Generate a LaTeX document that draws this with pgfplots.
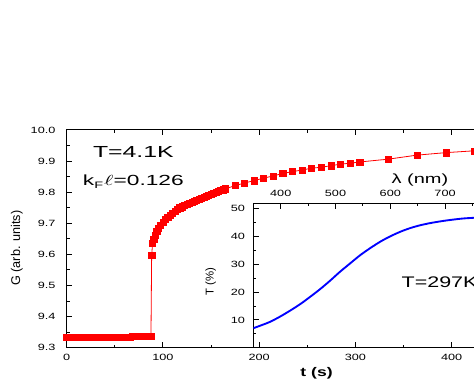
\documentclass[border=0pt]{standalone}
\usepackage{fontspec}
\setmainfont{Liberation Sans}
\usepackage{pgfplots}
\pgfplotsset{compat=1.18}
\begin{document}
\begin{tikzpicture}
\useasboundingbox (0,0) rectangle (355.5pt,285.75pt);
\clip (0,0) rectangle (355.5pt,285.75pt);
\pgfplotsset{
  common/.style={
    scale only axis,
    tick align=inside,
    major tick length=4pt, minor tick length=2.2pt,
    axis line style={line width=0.8pt},
    every tick/.style={line width=0.7pt, black},
    /pgf/number format/assume math mode=true,
    tick label style={font=\fontsize{6.8}{8}\selectfont, xscale=1.4},
  }
}
\begin{axis}[common,
  at={(50pt,25pt)}, anchor=south west,
  width=324.8pt, height=163.3pt,
  xmin=0, xmax=450, ymin=9.3, ymax=10.0,
  xtick={0,100,200,300,400},
  minor xtick={50,150,250,350,450},
  ytick={9.3,9.4,9.5,9.6,9.7,9.8,9.9,10.0},
  minor ytick={9.35,9.45,9.55,9.65,9.75,9.85,9.95},
  y tick label style={/pgf/number format/fixed, /pgf/number format/fixed zerofill, /pgf/number format/precision=1, xshift=-2.5pt},
  x tick label style={yshift=-1.5pt},
  xlabel={\bfseries t (s)},
  xlabel style={at={(axis description cs:0.577,-0.116)}, anchor=center, font=\fontsize{9.4}{11}\selectfont, xscale=1.4},
  ylabel={G (arb. units)},
  ylabel style={at={(axis description cs:-0.115,0.457)}, anchor=center, font=\fontsize{9.5}{11}\selectfont},
]
\addplot[red, line width=0.6pt, mark=square*, mark size=2.3pt, mark options={solid, fill=red, draw=red, line width=0.3pt}] coordinates {
(0,9.335)(2,9.335)(4,9.335)(6,9.335)(8,9.335)(10,9.335)(12,9.335)(14,9.335)(16,9.335)(18,9.335)
(20,9.335)(22,9.335)(24,9.335)(26,9.335)(28,9.335)(30,9.335)(32,9.335)(34,9.335)(36,9.335)(38,9.335)
(40,9.335)(42,9.335)(44,9.335)(46,9.335)(48,9.335)(50,9.335)(52,9.335)(54,9.335)(56,9.335)(58,9.335)
(60,9.335)(62,9.335)(64,9.335)(66,9.335)(68,9.336)(70,9.336)(72,9.336)(74,9.336)(76,9.336)(78,9.336)
(80,9.336)(82,9.336)(84,9.336)(86,9.336)(87.6,9.336)
(88.3,9.596)(89.3,9.636)(90.5,9.650)(91.7,9.662)(93.5,9.674)(95.2,9.684)(97.5,9.694)(100,9.704)
(102.5,9.712)(105,9.720)(107.5,9.727)(110,9.733)(112.5,9.739)(115,9.745)(117.5,9.750)(120,9.753)
(122.5,9.757)(125,9.760)(127.5,9.764)(130,9.768)(132.5,9.771)(135,9.775)(137.5,9.778)(140,9.781)
(142.5,9.785)(145,9.788)(147.5,9.791)(150,9.794)(152.5,9.797)(155,9.800)(157.5,9.803)(160,9.806)
(162.5,9.808)(165,9.811)
(175,9.821)(184.5,9.829)(194.5,9.837)(204.5,9.845)(214.5,9.852)(224.5,9.860)(234.5,9.866)
(244.5,9.871)(254.5,9.877)(264.5,9.880)(274.5,9.885)(284.5,9.890)(294.5,9.893)(304.5,9.897)
(334,9.906)(364,9.919)(394,9.927)(424,9.933)
};
\node[font=\fontsize{12}{14}\selectfont, xscale=1.55] at (rel axis cs:0.154,0.90) {T=4.1K};
\node[font=\fontsize{11}{13}\selectfont, xscale=1.55] at (rel axis cs:0.154,0.7625) {k\textsubscript{\fontsize{7}{8}\selectfont F}$\ell$=0.126};
\end{axis}
\begin{axis}[common,
  at={(190pt,25pt)}, anchor=south west,
  width=184.9pt, height=108.3pt,
  xmin=350, xmax=800, ymin=0, ymax=52,
  xtick={400,500,600,700},
  minor xtick={450,550,650,750},
  ytick={10,20,30,40,50},
  minor ytick={5,15,25,35,45},
  xtick pos=right, xticklabel pos=right, ytick pos=left,
  x tick label style={yshift=1.5pt},
  y tick label style={xshift=-1pt},
  xlabel={λ (nm)},
  xlabel style={at={(axis description cs:0.676,1.161)}, anchor=center, font=\fontsize{10}{12}\selectfont, xscale=1.5},
  ylabel={T (\%)},
  ylabel style={at={(axis description cs:-0.173,0.458)}, anchor=center, font=\fontsize{8.5}{10}\selectfont},
]
\addplot[blue, line width=1.4pt, smooth] coordinates {
(350,7.0)(365,8.1)(380,9.25)(398,11.1)(416,13.2)(435,15.6)(453,18.2)(472,21.1)(490,24.1)
(508,27.3)(527,30.4)(545,33.3)(563,35.8)(582,38.2)(600,40.1)(619,41.8)(637,43.1)(655,44.1)
(674,44.9)(692,45.5)(710,46.0)(732,46.5)(755,46.8)(778,47.1)(800,47.3)
};
\node[anchor=west, font=\fontsize{11.5}{13}\selectfont, xscale=1.4] at (rel axis cs:0.575,0.45) {T=297K};
\end{axis}
\end{tikzpicture}
\end{document}
